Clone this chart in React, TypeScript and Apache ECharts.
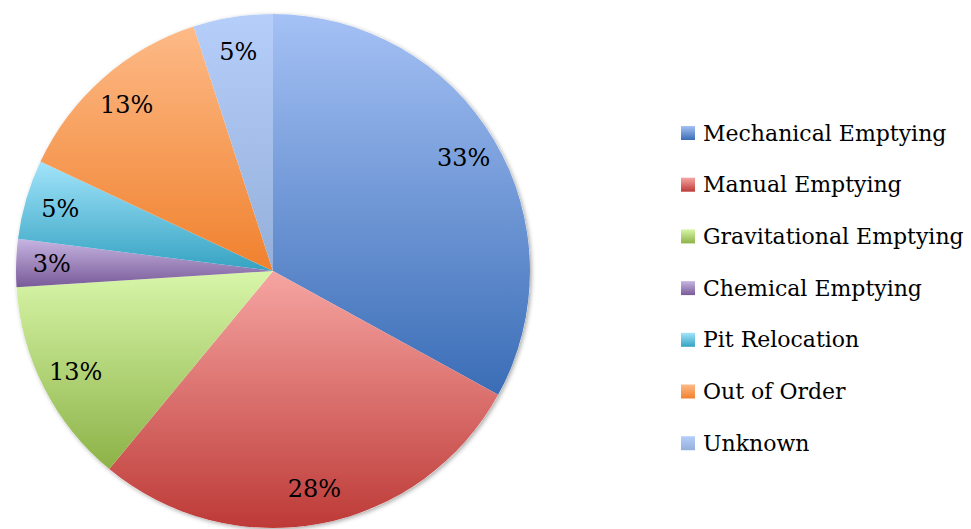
import React, { useEffect, useRef } from "react";
import * as echarts from "echarts";

const categories = [
  "Mechanical Emptying",
  "Manual Emptying",
  "Gravitational Emptying",
  "Chemical Emptying",
  "Pit Relocation",
  "Out of Order",
  "Unknown",
];
const values = [33, 28, 13, 3, 5, 13, 5];
const topColors = ["#a5c1f5", "#f6a5a2", "#d8f6a9", "#c7b5e2", "#a2e4fa", "#fdba87", "#b6cffa"];
const bottomColors = ["#3a6db6", "#bd3a37", "#8cb247", "#785a98", "#35a2c2", "#f0812e", "#93afda"];

const grad = (i: number) =>
  new echarts.graphic.LinearGradient(0, 0, 0, 1, [
    { offset: 0, color: topColors[i] },
    { offset: 1, color: bottomColors[i] },
  ]);

export default function App() {
  const ref = useRef<HTMLDivElement>(null);
  useEffect(() => {
    if (!ref.current) return;
    const chart = echarts.init(ref.current, undefined, { renderer: "svg" });
    const R = 257;
    const center = [273, 271];
    const data = categories.map((name, i) => ({
      name,
      value: values[i],
      itemStyle: { color: grad(i) },
    }));
    chart.setOption({
      animation: false,
      backgroundColor: "#ffffff",
      legend: {
        orient: "vertical",
        left: 681,
        top: 122,
        padding: 0,
        itemWidth: 14,
        itemHeight: 14,
        itemGap: 29.7,
        icon: "rect",
        data: categories,
        textStyle: {
          fontFamily: "DejaVu Serif",
          fontSize: 22,
          color: "#000000",
          lineHeight: 22,
          padding: [0, 0, 0, 3],
        },
      },
      series: [
        {
          type: "pie",
          silent: true,
          center,
          radius: [0, R],
          label: { show: false },
          labelLine: { show: false },
          itemStyle: {
            color: "#ffffff",
            shadowBlur: 4,
            shadowOffsetX: 1.5,
            shadowOffsetY: 1.5,
            shadowColor: "rgba(0,0,0,0.35)",
          },
          data: [{ name: "__bg", value: 1 }],
        },
        {
          type: "pie",
          center,
          radius: [0, R],
          startAngle: 90,
          clockwise: true,
          silent: true,
          label: { show: false },
          labelLine: { show: false },
          itemStyle: { borderWidth: 0 },
          data,
        },
        {
          type: "pie",
          center,
          radius: [R * 0.7, R],
          startAngle: 90,
          clockwise: true,
          silent: true,
          itemStyle: { color: "rgba(0,0,0,0)", borderWidth: 0 },
          labelLine: { show: false },
          label: {
            show: true,
            position: "inside",
            formatter: (p: any) => `${p.value}%`,
            fontFamily: "DejaVu Serif",
            fontSize: 24,
            color: "#000000",
          },
          data: categories.map((name, i) => ({ name, value: values[i] })),
        },
      ],
    });
    return () => chart.dispose();
  }, []);
  return (
    <div
      ref={ref}
      style={{ position: "fixed", left: 0, top: 0, width: 971, height: 529 }}
    />
  );
}
